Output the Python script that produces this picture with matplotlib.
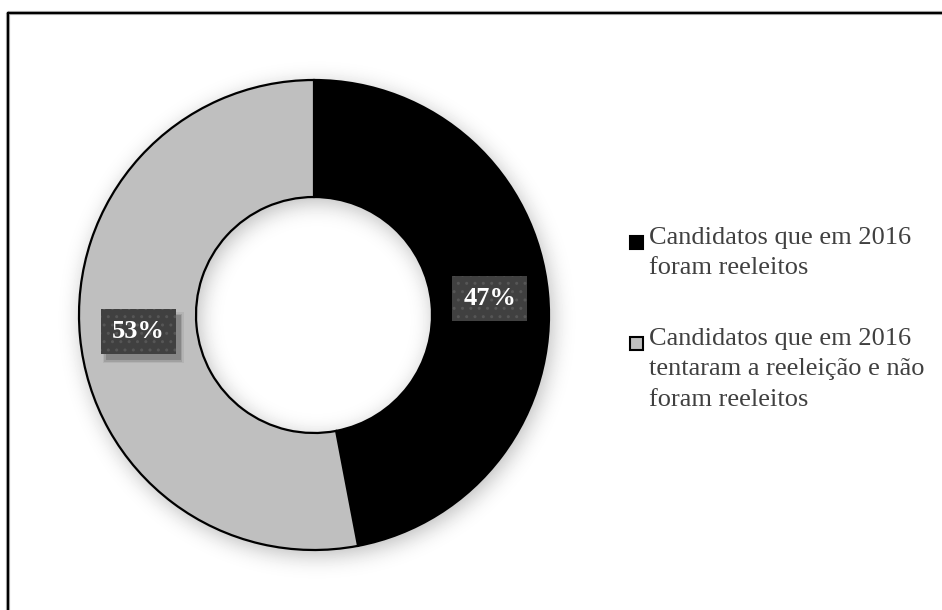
import numpy as np
import matplotlib
matplotlib.use("Agg")
import matplotlib.pyplot as plt
from matplotlib.patches import Rectangle

labels = ["Candidatos que em 2016\nforam reeleitos",
          "Candidatos que em 2016\ntentaram a reeleição e não\nforam reeleitos"]
shares = [47, 53]
colors = ["#000000", "#bfbfbf"]

plt.rcParams['font.family'] = ['Liberation Serif', 'DejaVu Serif']

W, H = 942, 610
fig = plt.figure(figsize=(W / 100, H / 100), dpi=100)
ax = fig.add_axes([0, 0, 1, 1])

cx, cy, R = 314, 295, 235
ring = 117

# soft drop shadow behind the ring
yy, xx = np.mgrid[0:H, 0:W] + 0.5
d = np.hypot(xx - (cx + 3), yy - (cy - 5))
mask = ((d <= R) & (d >= R - ring)).astype(float)
sig = 11
k = np.arange(-3 * sig, 3 * sig + 1)
g = np.exp(-k ** 2 / (2 * sig ** 2))
g /= g.sum()
blur = np.apply_along_axis(lambda r: np.convolve(r, g, mode='same'), 1, mask)
blur = np.apply_along_axis(lambda c: np.convolve(c, g, mode='same'), 0, blur)
shade = 1 - 0.28 * blur
ax.imshow(shade, cmap='gray', vmin=0, vmax=1, origin='lower',
          extent=(0, W, 0, H), interpolation='bilinear', zorder=0)

wedges, _, pcts = ax.pie(shares, colors=colors, radius=R, center=(cx, cy),
                         startangle=90, counterclock=False,
                         autopct='%.0f%%', pctdistance=(R - ring / 2) / R,
                         wedgeprops=dict(width=ring, edgecolor='black', linewidth=1.6),
                         textprops=dict(color='white', fontsize=19, fontweight='bold'))
for t in pcts:
    t.set_zorder(4)
    t.set_bbox(dict(boxstyle='square,pad=0.42', facecolor='#404040', edgecolor='#565656',
                    hatch='..', linewidth=0))

ax.set_xlim(0, W)
ax.set_ylim(0, H)
ax.axis('off')

# shadow boxes under the percentage labels
fig.canvas.draw()
inv = ax.transData.inverted()
for t in pcts:
    bb = t.get_bbox_patch().get_window_extent()
    (x0, y0), (x1, y1) = inv.transform([[bb.x0, bb.y0], [bb.x1, bb.y1]])
    for grow, a in [(3, 0.06), (1.5, 0.1), (0, 0.16)]:
        ax.add_patch(Rectangle((x0 + 5 - grow, y0 - 6 - grow), x1 - x0 + 2 * grow,
                               y1 - y0 + 2 * grow, facecolor='black', alpha=a,
                               linewidth=0, zorder=3))

# legend, marker aligned with the first line of each entry
ty = [H - 242, H - 343]
for lab, col, y in zip(labels, colors, ty):
    ax.add_patch(Rectangle((630, y - 6.5), 13, 13, facecolor=col, edgecolor='black',
                           linewidth=1.5, zorder=5))
    ax.text(649, y + 15, lab, fontsize=19, color='#404040', ha='left', va='top',
            linespacing=1.5, zorder=5)

# chart frame (right and bottom sides fall outside the image)
ax.plot([8, 8], [0, H - 13], color='#b0b0b0', lw=3, solid_capstyle='butt', zorder=5)
ax.plot([8, W], [H - 13, H - 13], color='#b0b0b0', lw=3, solid_capstyle='butt', zorder=5)
ax.plot([7.5, 7.5], [0, H - 12.5], color='black', lw=1.6, solid_capstyle='projecting', zorder=6)
ax.plot([7.5, W], [H - 12.5, H - 12.5], color='black', lw=1.6, solid_capstyle='projecting', zorder=6)

fig.savefig("out.png", dpi=100)
